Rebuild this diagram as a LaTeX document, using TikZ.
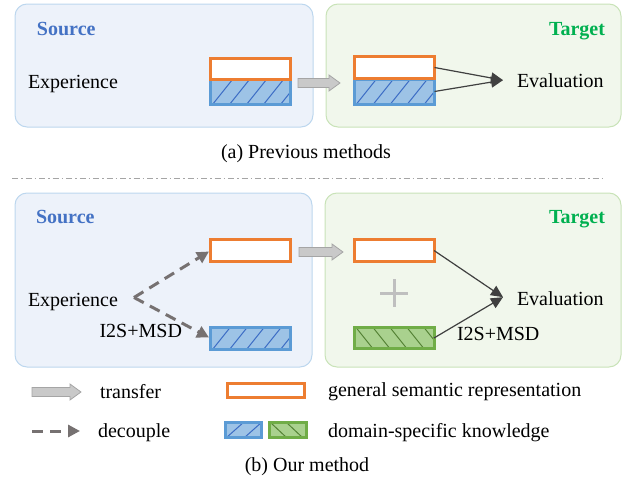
\documentclass[tikz,border=0pt]{standalone}
\usepackage{fontspec}
\setmainfont{Liberation Serif}
\usetikzlibrary{arrows.meta,calc}
\definecolor{srcfill}{HTML}{EDF2FA}
\definecolor{srcline}{HTML}{BDD7EE}
\definecolor{tgtfill}{HTML}{F1F7EC}
\definecolor{tgtline}{HTML}{C9E3B8}
\definecolor{orangeC}{HTML}{ED7D31}
\definecolor{blueB}{HTML}{5B9BD5}
\definecolor{blueF}{HTML}{9DC3E6}
\definecolor{blueH}{HTML}{3A6BC4}
\definecolor{greenB}{HTML}{70AD47}
\definecolor{greenF}{HTML}{A9D18E}
\definecolor{greenH}{HTML}{548235}
\definecolor{srcText}{HTML}{4472C4}
\definecolor{tgtText}{HTML}{00B050}
\definecolor{arrGray}{HTML}{C9C9C9}
\definecolor{arrLine}{HTML}{A5A5A5}
\definecolor{dashC}{HTML}{767171}
\definecolor{darkA}{HTML}{404040}
\definecolor{plusC}{HTML}{BFBFBF}
\newcommand{\blockarrow}[2]{%
  \draw[blockarr] ($(#1)+(0,-4.5)$) -- ($(#2)+(-11,-4.5)$) -- ($(#2)+(-11,-8)$) -- (#2)
    -- ($(#2)+(-11,8)$) -- ($(#2)+(-11,4.5)$) -- ($(#1)+(0,4.5)$) -- cycle;}
\begin{document}
\begin{tikzpicture}[x=1pt,y=-1pt,
  every node/.style={inner sep=0pt, outer sep=0pt, font=\fontsize{20}{24}\selectfont},
  panelS/.style={draw=srcline, fill=srcfill, rounded corners=12pt, line width=1pt, rectangle},
  panelT/.style={draw=tgtline, fill=tgtfill, rounded corners=12pt, line width=1pt, rectangle},
  bar/.style={rectangle, minimum width=80pt, line width=3pt},
  genbar/.style={bar, draw=orangeC, fill=white},
  bluebar/.style={bar, draw=blueB, fill=blueF, path picture={
     \foreach \i in {2,19,36,53,70}
       \draw[blueH, line width=1pt] ($(path picture bounding box.south west)+(\i,0)$) -- ++(20,-25);}},
  greenbar/.style={bar, draw=greenB, fill=greenF, path picture={
     \foreach \i in {-15,2,19,36,53,70}
       \draw[greenH, line width=1pt] ($(path picture bounding box.north west)+(\i,0)$) -- ++(20,25);}},
  legorange/.style={rectangle, draw=orangeC, fill=white, line width=2.5pt, minimum width=77pt, minimum height=14pt},
  legblue/.style={rectangle, draw=blueB, fill=blueF, line width=2.5pt, minimum width=36pt, minimum height=15pt,
     path picture={\foreach \i in {1,19}
       \draw[blueH, line width=1pt] ($(path picture bounding box.south west)+(\i,0)$) -- ++(18,-16);}},
  leggreen/.style={rectangle, draw=greenB, fill=greenF, line width=2.5pt, minimum width=37pt, minimum height=15pt,
     path picture={\foreach \i in {1,17}
       \draw[greenH, line width=1pt] ($(path picture bounding box.north west)+(\i,0)$) -- ++(17,16);}},
  blockarr/.style={fill=arrGray, draw=arrLine, line width=0.8pt},
  decarr/.style={draw=dashC, line width=3pt, dash pattern=on 11pt off 7pt, -{Triangle[length=12pt,width=12pt]}},
  evarr/.style={draw=darkA, line width=1.2pt, -{Triangle[length=12pt,width=11pt]}},
  srclabel/.style={font=\fontsize{20}{24}\selectfont\bfseries, text=srcText},
  tgtlabel/.style={font=\fontsize{20}{24}\selectfont\bfseries, text=tgtText}
]
\useasboundingbox (0,0) rectangle (625,479);

% ---------- (a) previous methods ----------
\node[panelS, minimum width=298pt, minimum height=123pt] (srcA) at (164,65.5) {};
\node[panelT, minimum width=295pt, minimum height=123pt] (tgtA) at (473.5,65.5) {};
\node[srclabel, anchor=base west] (srcAlab) at (37,35) {Source};
\node[tgtlabel, anchor=base east] (tgtAlab) at (605,35) {Target};
\node[anchor=base west] (expA) at (28,88) {Experience};
\node[anchor=base west] (evA) at (517,87) {Evaluation};

\node[bluebar, minimum height=25pt] (sbA) at (250.5,92) {};
\node[genbar, minimum height=21pt] (sgA) at (250.5,68.5) {};
\node[bluebar, minimum height=25pt] (tbA) at (394.5,91.5) {};
\node[genbar, minimum height=22pt] (tgA) at (394.5,67.5) {};

\coordinate (taS) at (298,83);
\coordinate (taE) at (340,83);
\blockarrow{taS}{taE}
\coordinate (evAin) at ($(evA.west)+(-14,0)$);
\draw[evarr] (tgA.east) -- (evAin);
\draw[evarr] (tbA.east) -- (evAin);

\node[anchor=base] (capA) at (306,158) {(a) Previous methods};

\draw[arrLine, line width=1pt, dash pattern=on 6pt off 3pt on 1.5pt off 3pt] (12,178) -- (606,178);

% ---------- (b) our method ----------
\node[panelS, minimum width=297pt, minimum height=174pt] (srcB) at (163.5,280) {};
\node[panelT, minimum width=296pt, minimum height=174pt] (tgtB) at (473,280) {};
\node[srclabel, anchor=base west] (srcBlab) at (36,223) {Source};
\node[tgtlabel, anchor=base east] (tgtBlab) at (605,223) {Target};
\node[anchor=base west] (expB) at (28,306) {Experience};
\node[anchor=base west] (evB) at (517,305) {Evaluation};

\node[genbar, minimum height=22pt] (sgB) at (250.5,250.5) {};
\node[bluebar, minimum height=22pt] (sbB) at (250.5,338.5) {};
\node[genbar, minimum height=22pt] (tgB) at (394,250.5) {};
\node[greenbar, minimum height=21pt] (tgrB) at (394,338) {};

\coordinate (split) at (134,297.5);
\draw[decarr] (split) -- ($(sgB.west)+(-1.5,1)$);
\draw[decarr] (split) -- ($(sbB.west)+(-1.5,-1)$);
\node[anchor=base east] (i2sA) at (182,337) {I2S+MSD};

\coordinate (tbS) at (299,252);
\coordinate (tbE) at (343,252);
\blockarrow{tbS}{tbE}

\draw[plusC, line width=3pt] (380,293) -- (408,293) (394,279) -- (394,307);

\coordinate (evBin) at ($(evB.west)+(-14,-1)$);
\draw[evarr] (tgB.east) -- (evBin);
\draw[evarr] (tgrB.east) -- (evBin);
\node[anchor=base west] (i2sB) at (457,340) {I2S+MSD};

% ---------- legend ----------
\coordinate (l1S) at (32,392);
\coordinate (l1E) at (81,392);
\blockarrow{l1S}{l1E}
\node[anchor=base west] (ltr) at (100,398) {transfer};
\coordinate (l2S) at (32,431);
\coordinate (l2E) at (80,431);
\draw[decarr] (l2S) -- (l2E);
\node[anchor=base west] (ldc) at (98,437) {decouple};
\node[legorange] (lor) at (266,390.5) {};
\node[legblue] (lbl) at (243.5,430) {};
\node[leggreen] (lgr) at (288,430) {};
\node[anchor=base west] (lgen) at (328,396) {general semantic representation};
\node[anchor=base west] (ldom) at (328,437) {domain-specific knowledge};

\node[anchor=base] (capB) at (307,471) {(b) Our method};
\end{tikzpicture}
\end{document}
